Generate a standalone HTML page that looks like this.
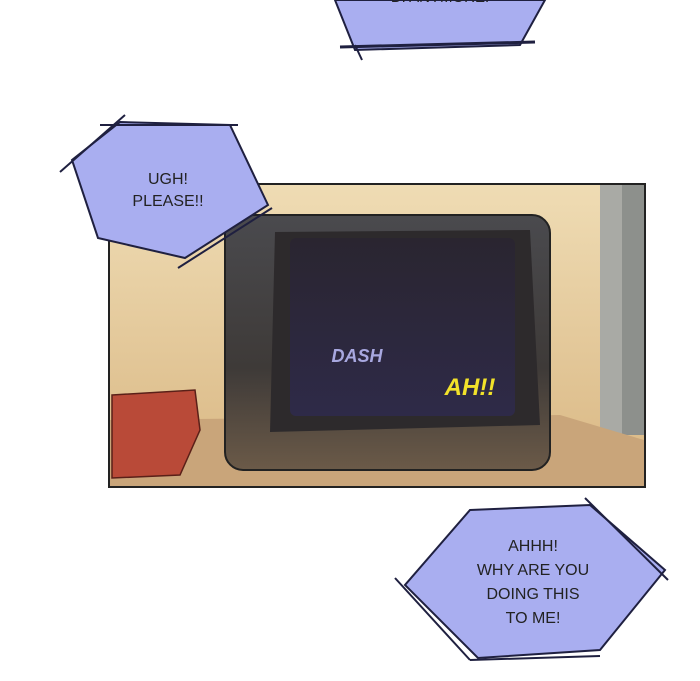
<!DOCTYPE html>
<html><head><style>
html,body{margin:0;padding:0;background:#fff;width:700px;height:681px;overflow:hidden}
text{font-family:"Liberation Sans",sans-serif}
</style></head><body>
<svg width="700" height="681" viewBox="0 0 700 681">
<defs>
<linearGradient id="wall" x1="0" y1="0" x2="0" y2="1">
<stop offset="0" stop-color="#efdcb4"/><stop offset="1" stop-color="#d9b783"/>
</linearGradient>
<linearGradient id="tv" x1="0" y1="0" x2="0" y2="1">
<stop offset="0" stop-color="#4a4a4e"/><stop offset="0.6" stop-color="#3e3a38"/><stop offset="1" stop-color="#6b5a48"/>
</linearGradient>
<linearGradient id="scr" x1="0" y1="0" x2="0" y2="1">
<stop offset="0" stop-color="#2a2530"/><stop offset="1" stop-color="#2e2a48"/>
</linearGradient>
</defs>
<!-- top bubble -->
<polygon points="335,0 545,0 520,45 355,50" fill="#a9aef0" stroke="#1f2040" stroke-width="2"/>
<line x1="340" y1="47" x2="535" y2="42" stroke="#1f2040" stroke-width="3"/>
<line x1="355" y1="45" x2="362" y2="60" stroke="#1f2040" stroke-width="2"/>
<text x="440" y="2" font-size="15" text-anchor="middle" fill="#222">DI ANYMORE!</text>
<!-- panel -->
<rect x="109" y="184" width="536" height="303" fill="url(#wall)" stroke="#222" stroke-width="2"/>
<rect x="600" y="185" width="44" height="250" fill="#a9aaa5"/>
<rect x="622" y="185" width="22" height="250" fill="#8d908c"/>
<polygon points="110,420 560,415 644,440 644,486 110,486" fill="#c9a57a"/>
<!-- red box -->
<polygon points="112,395 195,390 200,430 180,475 112,478" fill="#b94a38" stroke="#5a2018" stroke-width="1.5"/>
<!-- tv -->
<rect x="225" y="215" width="325" height="255" rx="18" fill="url(#tv)" stroke="#222" stroke-width="2"/>
<polygon points="275,232 530,230 540,425 270,432" fill="#2d2a2c"/>
<rect x="290" y="238" width="225" height="178" rx="6" fill="url(#scr)"/>
<text x="357" y="362" font-size="18" font-weight="bold" font-style="italic" fill="#a8a8e0" text-anchor="middle">DASH</text>
<text x="470" y="395" font-size="24" font-weight="bold" font-style="italic" fill="#f2e22a" text-anchor="middle">AH!!</text>
<!-- bubble 2 -->
<polygon points="120,122 230,125 268,205 185,258 98,238 72,160" fill="#a9aef0" stroke="#1f2040" stroke-width="2"/>
<line x1="100" y1="125" x2="238" y2="125" stroke="#1f2040" stroke-width="2"/>
<line x1="60" y1="172" x2="125" y2="115" stroke="#1f2040" stroke-width="2"/>
<line x1="178" y1="268" x2="272" y2="208" stroke="#1f2040" stroke-width="2"/>
<text x="168" y="184" font-size="16" text-anchor="middle" fill="#222">UGH!</text>
<text x="168" y="206" font-size="16" text-anchor="middle" fill="#222">PLEASE!!</text>
<!-- bubble 3 -->
<polygon points="470,510 590,505 665,570 600,650 478,658 405,585" fill="#a9aef0" stroke="#1f2040" stroke-width="2"/>
<line x1="395" y1="578" x2="470" y2="660" stroke="#1f2040" stroke-width="2"/>
<line x1="470" y1="660" x2="600" y2="656" stroke="#1f2040" stroke-width="2"/>
<line x1="585" y1="498" x2="668" y2="580" stroke="#1f2040" stroke-width="2"/>
<text x="533" y="551" font-size="16" text-anchor="middle" fill="#222">AHHH!</text>
<text x="533" y="575" font-size="16" text-anchor="middle" fill="#222">WHY ARE YOU</text>
<text x="533" y="599" font-size="16" text-anchor="middle" fill="#222">DOING THIS</text>
<text x="533" y="623" font-size="16" text-anchor="middle" fill="#222">TO ME!</text>
</svg>
</body></html>
